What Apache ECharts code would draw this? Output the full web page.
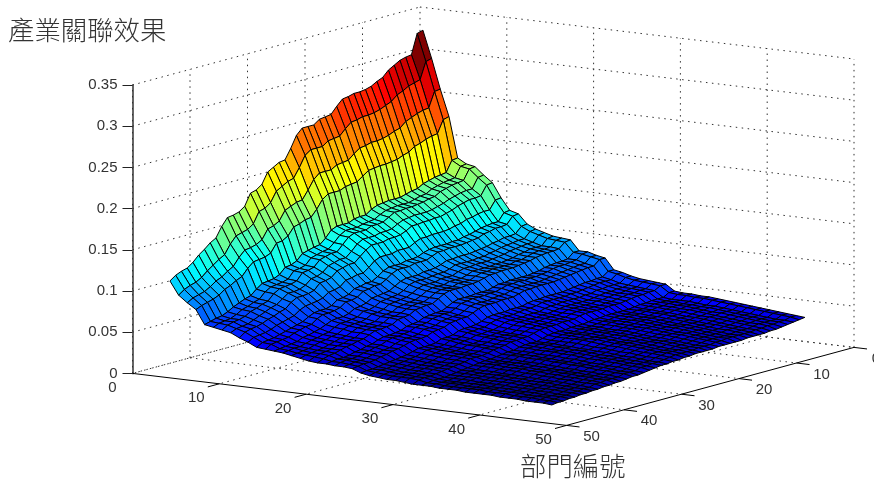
<!DOCTYPE html>
<html><head><meta charset="utf-8">
<style>html,body{margin:0;padding:0;background:#fff}#c{width:874px;height:482px}</style>
<script src="https://cdn.jsdelivr.net/npm/echarts@6/dist/echarts.min.js"></script>
</head><body><div id="c"></div>
<script>
const titleText='產業關聯效果';
const axisNameText='部門編號';
const xTicks=[0,10,20,30,40,50];
const yTicks=[0,10,20,30,40,50];
const zTicks=[0,0.05,0.1,0.15,0.2,0.25,0.3,0.35];
// surface heights in thousandths, one row per x index 1..45, y index 1..45
const row01=[325,323,299,298,296,292,288,281,278,274,272,271,271,269,268,261,253,252,251,246,246,246,239,225,213,212,208,204,191,186,184,170,165,163,162,153,141,137,131,126,119,114,112,109,104];
const row02=[292,290,270,268,266,262,259,253,250,247,245,244,244,242,241,235,228,227,226,221,221,221,216,203,192,190,186,182,170,165,163,150,145,143,141,133,122,118,113,108,102,98,96,93,88];
const row03=[256,255,237,236,234,231,228,222,220,217,215,214,214,212,211,206,200,199,198,194,194,194,188,177,167,166,163,160,149,145,143,132,128,126,125,118,109,105,100,97,92,88,86,84,80];
const row04=[224,222,207,206,204,201,199,194,192,189,188,187,187,186,185,180,175,174,173,170,170,170,165,155,147,146,143,141,132,128,127,117,114,113,112,106,98,95,91,88,83,80,78,76,73];
const row05=[175,174,161,160,159,157,155,151,150,148,146,146,146,145,144,141,136,136,135,132,132,132,129,121,115,114,112,110,103,100,99,92,89,88,87,82,76,74,71,68,64,61,60,58,56];
const row06=[169,168,156,155,154,152,150,146,145,143,141,141,141,140,139,136,132,131,130,128,128,128,124,117,111,110,108,106,99,97,96,88,86,85,84,80,73,71,68,66,62,59,58,57,54];
const row07=[167,166,154,153,152,150,148,144,143,141,140,139,139,138,138,134,130,129,129,126,126,126,123,116,109,109,107,105,98,96,95,87,85,84,83,79,72,70,67,65,61,59,58,56,52];
const row08=[158,157,145,145,144,142,140,137,135,133,132,132,132,131,130,127,123,122,122,120,120,120,116,109,103,103,101,99,93,90,89,83,80,79,79,74,69,67,64,61,58,55,54,53,50];
const row09=[150,149,138,137,137,135,133,130,128,126,126,125,125,124,124,120,117,116,116,114,114,114,110,104,98,98,96,94,88,86,85,78,76,75,75,71,65,63,60,58,55,53,52,50,45];
const row10=[133,132,122,122,121,119,118,115,114,112,111,111,111,110,110,107,103,103,103,101,101,101,98,92,87,87,85,84,78,76,75,70,68,67,66,63,58,56,54,52,49,47,46,45,41];
const row11=[119,118,109,109,108,107,105,103,102,100,100,99,99,99,98,96,93,92,92,90,90,90,87,82,78,78,76,75,70,68,67,62,60,60,59,56,52,50,48,46,44,42,41,40,36];
const row12=[116,115,107,106,106,104,103,100,99,98,97,97,97,96,96,93,90,90,90,88,88,88,85,80,76,76,74,73,68,66,66,61,59,58,58,55,50,49,47,45,42,41,40,39,35];
const row13=[105,104,97,96,96,94,93,91,90,89,88,88,88,87,87,84,82,81,81,79,79,79,77,73,69,68,67,66,62,60,59,55,53,53,52,49,46,44,42,41,38,37,36,35,34];
const row14=[100,99,92,92,91,90,89,87,86,84,84,83,83,83,83,80,78,78,77,76,76,76,74,69,66,65,64,63,59,57,57,52,51,50,50,47,43,42,40,39,37,35,35,34,33];
const row15=[97,96,89,89,88,87,86,84,83,82,81,81,81,80,80,78,75,75,75,73,73,73,71,67,64,63,62,61,57,55,55,51,49,49,48,46,42,41,39,38,36,34,33,32,31];
const row16=[94,93,86,86,86,84,83,81,80,79,79,78,78,78,78,75,73,73,73,71,71,71,69,65,62,61,60,59,55,54,53,49,48,47,47,44,41,40,38,36,34,33,32,31,29];
const row17=[93,92,86,85,85,84,82,80,80,78,78,78,78,77,77,75,72,72,72,70,70,70,68,64,61,61,60,58,55,53,53,49,47,47,46,44,40,39,37,36,34,33,32,30,27];
const row18=[92,91,85,84,84,83,82,80,79,78,77,77,77,76,76,74,72,71,71,70,70,70,68,64,60,60,59,58,54,53,52,48,47,46,46,43,40,39,37,36,34,32,31,29,26];
const row19=[80,80,74,73,73,72,71,69,68,67,67,67,67,66,66,64,62,62,62,61,61,61,59,55,52,52,51,50,47,46,45,42,41,40,40,38,35,34,32,31,29,28,28,27,26];
const row20=[80,79,74,73,72,72,71,69,68,67,67,66,67,66,66,64,62,62,61,61,61,60,59,55,52,52,51,50,47,46,45,42,41,40,40,38,35,34,32,31,29,28,28,27,25];
const row21=[77,77,71,71,70,69,68,67,66,65,64,64,64,64,64,62,60,60,59,58,58,58,57,53,50,50,49,48,45,44,44,40,39,39,38,36,33,32,31,30,28,27,27,26,25];
const row22=[75,75,69,69,68,67,66,65,64,63,63,63,63,62,62,60,58,58,58,57,57,57,55,52,49,49,48,47,44,43,42,39,38,38,37,35,33,32,30,29,27,26,26,25,24];
const row23=[62,62,57,57,56,56,55,54,53,52,52,52,52,51,51,50,48,48,48,47,47,47,46,43,41,40,40,39,36,35,35,32,31,31,31,29,27,26,25,24,23,22,21,21,20];
const row24=[60,60,55,55,55,54,53,52,51,51,50,50,50,50,50,48,47,47,46,45,45,45,44,42,39,39,38,38,35,34,34,31,30,30,30,28,26,25,24,23,22,21,21,20,18];
const row25=[57,57,52,52,52,51,51,49,49,48,48,48,48,47,47,46,44,44,44,43,43,43,42,39,37,37,36,36,34,33,32,30,29,29,28,27,25,24,23,22,21,20,20,19,17];
const row26=[55,55,51,50,50,49,49,48,47,46,46,46,46,46,45,44,43,43,42,42,42,42,40,38,36,36,35,35,32,31,31,29,28,28,27,26,24,23,22,21,20,19,19,18,16];
const row27=[54,54,50,50,49,48,48,47,46,46,45,45,45,45,45,43,42,42,42,41,41,41,40,37,35,35,35,34,32,31,31,28,27,27,27,25,23,23,22,21,20,19,19,18,16];
const row28=[53,53,49,49,48,48,47,46,45,45,44,44,44,44,44,43,41,41,41,40,40,40,39,37,35,35,34,33,31,30,30,28,27,27,26,25,23,22,21,21,19,19,18,18,15];
const row29=[52,52,48,48,47,47,46,45,44,44,44,43,43,43,43,42,40,40,40,39,39,39,38,36,34,34,33,33,31,30,29,27,26,26,26,24,23,22,21,20,19,18,18,17,14];
const row30=[45,45,41,41,41,40,40,39,38,38,38,38,38,37,37,36,35,35,35,34,34,34,33,31,29,29,29,28,26,26,25,24,23,23,22,21,20,19,18,17,16,16,16,15,14];
const row31=[44,44,40,40,40,40,39,38,38,37,37,37,37,36,36,35,34,34,34,33,33,33,32,30,29,29,28,28,26,25,25,23,22,22,22,21,19,19,18,17,16,15,15,15,14];
const row32=[44,44,40,40,40,39,39,38,38,37,37,37,36,36,36,35,34,34,34,33,33,33,32,30,29,29,28,27,26,25,25,23,22,22,22,21,19,18,18,17,16,15,15,14,13];
const row33=[43,43,40,39,39,39,38,37,37,36,36,36,36,36,35,35,33,33,33,33,33,32,32,30,28,28,27,27,25,25,24,22,22,22,21,20,19,18,17,17,16,15,15,14,13];
const row34=[43,43,39,39,39,38,38,37,37,36,36,36,36,35,35,34,33,33,33,32,32,32,32,30,28,28,27,27,25,24,24,22,22,21,21,20,18,18,17,16,15,15,14,14,13];
const row35=[42,42,38,38,38,38,37,36,36,35,35,35,35,35,34,34,33,32,32,32,32,32,31,29,27,27,27,26,25,24,24,22,21,21,21,20,18,18,17,16,15,15,14,14,12];
const row36=[41,41,38,38,37,37,36,35,35,35,34,34,34,34,34,33,32,32,32,31,31,31,30,28,27,27,26,26,24,23,23,21,21,20,20,19,18,17,17,16,15,14,14,14,12];
const row37=[40,40,37,37,36,36,35,35,34,34,33,33,33,33,33,32,31,31,31,30,30,30,29,28,26,26,26,25,24,23,23,21,20,20,20,19,17,17,16,16,15,14,14,13,12];
const row38=[39,39,36,36,36,35,35,34,33,33,33,33,33,32,32,31,30,30,30,30,30,30,29,27,26,25,25,24,23,22,22,20,20,20,19,18,17,16,16,15,14,14,13,13,12];
const row39=[38,38,35,35,35,34,34,33,32,32,32,32,32,31,31,31,30,29,29,29,29,29,28,26,25,25,24,24,22,22,22,20,19,19,19,18,16,16,15,15,14,13,13,13,11];
const row40=[37,37,34,34,34,33,33,32,32,31,31,31,31,31,31,30,29,29,29,28,28,28,27,26,24,24,24,23,22,21,21,19,19,19,18,17,16,16,15,14,14,13,13,12,11];
const row41=[36,36,33,33,33,32,32,31,31,30,30,30,30,30,30,29,28,28,28,27,27,27,26,25,24,23,23,23,21,21,20,19,18,18,18,17,16,15,15,14,13,13,12,12,11];
const row42=[35,35,32,32,32,31,31,30,30,30,29,29,29,29,29,28,27,27,27,26,26,26,26,24,23,23,22,22,21,20,20,18,18,18,17,16,15,15,14,14,13,12,12,12,10];
const row43=[34,34,31,31,31,31,30,29,29,29,28,28,28,28,28,27,26,26,26,26,26,26,25,24,22,22,22,21,20,19,19,18,17,17,17,16,15,14,14,13,12,12,12,11,10];
const row44=[33,33,31,31,30,30,29,29,28,28,28,28,28,27,27,26,26,26,25,25,25,25,24,23,22,22,21,21,19,19,19,17,17,17,16,16,14,14,13,13,12,12,11,11,10];
const row45=[32,31,30,29,28,27,27,26,26,26,26,25,25,25,25,25,24,24,24,24,23,23,22,22,21,21,20,19,18,17,17,16,15,15,14,14,13,13,12,12,11,11,10,10,9];
const rows=[row01,row02,row03,row04,row05,row06,row07,row08,row09,row10,row11,row12,row13,row14,row15,row16,row17,row18,row19,row20,row21,row22,row23,row24,row25,row26,row27,row28,row29,row30,row31,row32,row33,row34,row35,row36,row37,row38,row39,row40,row41,row42,row43,row44,row45];

// orthographic view: one axis-unit step in x or y expressed on the page axes
const H0=287.5,HX=8.68,HY=-5.75,VX=-1.04/824,VY=-1.56/824,V0=78/824;
const project=(x,y,z)=>[H0+HX*x+HY*y,z+V0+VX*x+VY*y];

const cMin=0,cMax=Math.max(...rows.flat())/1000;
const jet=v=>{
  let t=(v-cMin)/(cMax-cMin);
  t=Math.min(63,Math.floor(t*64))/63;
  const c=a=>Math.round(255*Math.max(0,Math.min(1,a)));
  return 'rgb('+c(Math.min(4*t-1.5,-4*t+4.5))+','+c(Math.min(4*t-.5,-4*t+3.5))+','+c(Math.min(4*t+.5,-4*t+2.5))+')';
};

const cells=[];
for(let i=0;i<rows.length-1;i++)for(let j=0;j<rows[i].length-1;j++){
  cells.push([i+1,j+1,rows[i][j]/1000,rows[i+1][j]/1000,rows[i+1][j+1]/1000,rows[i][j+1]/1000]);
}
const xMax=xTicks[xTicks.length-1],yMax=yTicks[yTicks.length-1],zMax=zTicks[zTicks.length-1];
const dotted=[];
zTicks.forEach(z=>{dotted.push([0,yMax,z,0,0,z]);dotted.push([0,0,z,xMax,0,z]);});
yTicks.forEach(y=>{dotted.push([0,y,0,0,y,zMax]);if(y<yMax)dotted.push([0,y,0,xMax,y,0]);});
xTicks.forEach(x=>{if(x>0)dotted.push([x,0,0,x,0,zMax]);if(x<xMax)dotted.push([x,0,0,x,yMax,0]);});
const solid=[[0,yMax,0,xMax,yMax,0],[xMax,0,0,xMax,yMax,0]];
xTicks.forEach(x=>{if(x>0)solid.push([x,yMax,0,x,yMax+2,0]);});
yTicks.forEach(y=>solid.push([xMax,y,0,xMax+1.5,y,0]));
const labels=[];
xTicks.forEach(x=>labels.push([x,yMax,x,x==0?-20:-23,14.5]));
yTicks.forEach(y=>labels.push([xMax,y,y,y==0?22:25,11.5]));

const lineItem=(api,style)=>{
  const a=api.coord(project(api.value(0),api.value(1),api.value(2)));
  const b=api.coord(project(api.value(3),api.value(4),api.value(5)));
  return {type:'line',silent:true,shape:{x1:a[0],y1:a[1],x2:b[0],y2:b[1]},style};
};

const chart=echarts.init(document.getElementById('c'),null,{renderer:'canvas'});
chart.setOption({
  animation:false,backgroundColor:'#fff',
  title:[
    {text:titleText,left:8,top:17,padding:0,textStyle:{fontFamily:'Noto Sans CJK TC',fontSize:26.4,fontWeight:300,color:'#333'}},
    {text:axisNameText,left:520,top:453,padding:0,textStyle:{fontFamily:'Noto Sans CJK TC',fontSize:26.4,fontWeight:300,color:'#333'}}
  ],
  grid:{left:132.5,top:85,width:721.5,height:288.4,containLabel:false},
  tooltip:{show:false},
  xAxis:{type:'value',min:0,max:721.5,show:false},
  yAxis:{type:'value',min:0,max:zMax,interval:0.05,position:'left',
    axisLine:{show:true,onZero:false,lineStyle:{color:'#666',width:2}},
    axisTick:{show:true,inside:false,length:10,lineStyle:{color:'#222',width:1}},
    axisLabel:{show:true,margin:15,color:'#333',fontFamily:'Liberation Sans',fontSize:15},
    splitLine:{show:false}},
  series:[
    {type:'custom',coordinateSystem:'cartesian2d',silent:true,z:1,progressive:0,data:dotted,
      renderItem:(p,api)=>lineItem(api,{stroke:'#333',lineWidth:1,lineDash:[1.5,4.5],fill:null})},
    {type:'custom',coordinateSystem:'cartesian2d',silent:true,z:2,progressive:0,data:solid,
      renderItem:(p,api)=>lineItem(api,{stroke:'#000',lineWidth:1,fill:null})},
    {type:'custom',coordinateSystem:'cartesian2d',silent:true,z:3,progressive:0,data:cells,
      renderItem:(p,api)=>{
        const x=api.value(0),y=api.value(1);
        const pts=[[x,y,api.value(2)],[x+1,y,api.value(3)],[x+1,y+1,api.value(4)],[x,y+1,api.value(5)]]
          .map(q=>api.coord(project(q[0],q[1],q[2])));
        return {type:'polygon',silent:true,shape:{points:pts},style:{fill:jet(api.value(2)),stroke:'#000',lineWidth:1}};
      }},
    {type:'custom',coordinateSystem:'cartesian2d',silent:true,z:4,progressive:0,data:labels,clip:false,
      renderItem:(p,api)=>{
        const a=api.coord(project(api.value(0),api.value(1),0));
        return {type:'text',silent:true,x:a[0]+api.value(3),y:a[1]+api.value(4),
          style:{text:String(api.value(2)),font:'15px "Liberation Sans"',fill:'#333',align:'center',verticalAlign:'middle'}};
      }}
  ]
});
</script></body></html>
